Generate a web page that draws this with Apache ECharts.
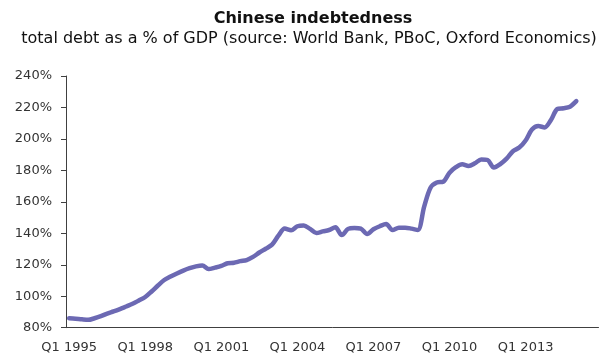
<!DOCTYPE html>
<html>
<head>
<meta charset="utf-8">
<script src="https://cdn.jsdelivr.net/npm/echarts@6/dist/echarts.min.js"></script>
<style>
  html, body { margin: 0; padding: 0; background: #ffffff; }
  #chart { width: 600px; height: 354px; }
</style>
</head>
<body>
<div id="chart"></div>
<script>
// Quarterly categories, Q1 1995 – Q4 2015
const years = [];
for (let y = 1995; y <= 2015; y++) years.push(y);
const quarters = ['Q1', 'Q2', 'Q3', 'Q4'];
const categories = [];
years.forEach(y => quarters.forEach(q => categories.push(q + ' ' + y)));

// Total debt as % of GDP, one value per quarter from Q1 1995
const debtToGdp = [
  86.0, 85.7, 85.3, 85.0, 86.0, 87.3, 89.0, 90.3, 91.8, 93.5,
  95.2, 97.3, 99.5, 103.0, 106.8, 110.3, 112.5, 114.5, 116.3, 117.8,
  119.0, 119.6, 117.3, 118.2, 119.3, 121.0, 121.3, 122.3, 123.0, 125.0,
  127.8, 130.2, 132.8, 138.5, 143.0, 141.9, 144.5, 145.0, 142.8, 140.2,
  141.2, 142.1, 143.8, 138.9, 142.8, 143.4, 143.0, 139.6, 142.6, 144.5,
  145.9, 142.1, 143.6, 143.6, 143.0, 142.1, 157.0, 169.0, 172.3, 172.8,
  178.5, 182.0, 183.9, 182.8, 184.5, 187.0, 186.6, 181.8, 184.0, 187.5,
  192.2, 194.5, 199.0, 206.0, 208.2, 207.3, 212.0, 219.0, 219.5, 220.5,
  224.0
];

const yMin = 80, yMax = 240, yStep = 20;

const axisColor = '#404040';
const labelColor = '#333333';
const font = 'DejaVu Sans';

const chart = echarts.init(document.getElementById('chart'), null, { renderer: 'canvas' });
chart.setOption({
  animation: false,
  backgroundColor: '#ffffff',
  title: [
    {
      text: 'Chinese indebtedness',
      left: 308, top: 6, textAlign: 'center',
      textStyle: { fontFamily: font, fontSize: 16, fontWeight: 'bold', color: '#111111' }
    },
    {
      text: 'total debt as a % of GDP (source: World Bank, PBoC, Oxford Economics)',
      left: 304, top: 26, textAlign: 'center',
      textStyle: { fontFamily: font, fontSize: 16, fontWeight: 'normal', color: '#111111' }
    }
  ],
  grid: { left: 66, right: 1.5, top: 76, bottom: 26.3 },
  xAxis: {
    type: 'category',
    data: categories,
    boundaryGap: true,
    axisLine: { lineStyle: { color: axisColor, width: 1 } },
    axisTick: { interval: 11, length: 5, lineStyle: { color: axisColor } },
    axisLabel: { interval: 11, color: labelColor, fontFamily: font, fontSize: 13, margin: 13 },
    splitLine: { show: false }
  },
  yAxis: {
    type: 'value',
    min: yMin, max: yMax, interval: yStep,
    axisLine: { show: true, lineStyle: { color: axisColor, width: 1 } },
    axisTick: { show: true, length: 5, lineStyle: { color: axisColor } },
    axisLabel: { formatter: '{value}%', color: labelColor, fontFamily: font, fontSize: 13, margin: 14 },
    splitLine: { show: false }
  },
  series: [{
    type: 'line',
    data: debtToGdp,
    smooth: 0.3,
    showSymbol: false,
    lineStyle: { color: '#6C69B3', width: 4.5, cap: 'round', join: 'round' }
  }]
});
</script>
</body>
</html>
